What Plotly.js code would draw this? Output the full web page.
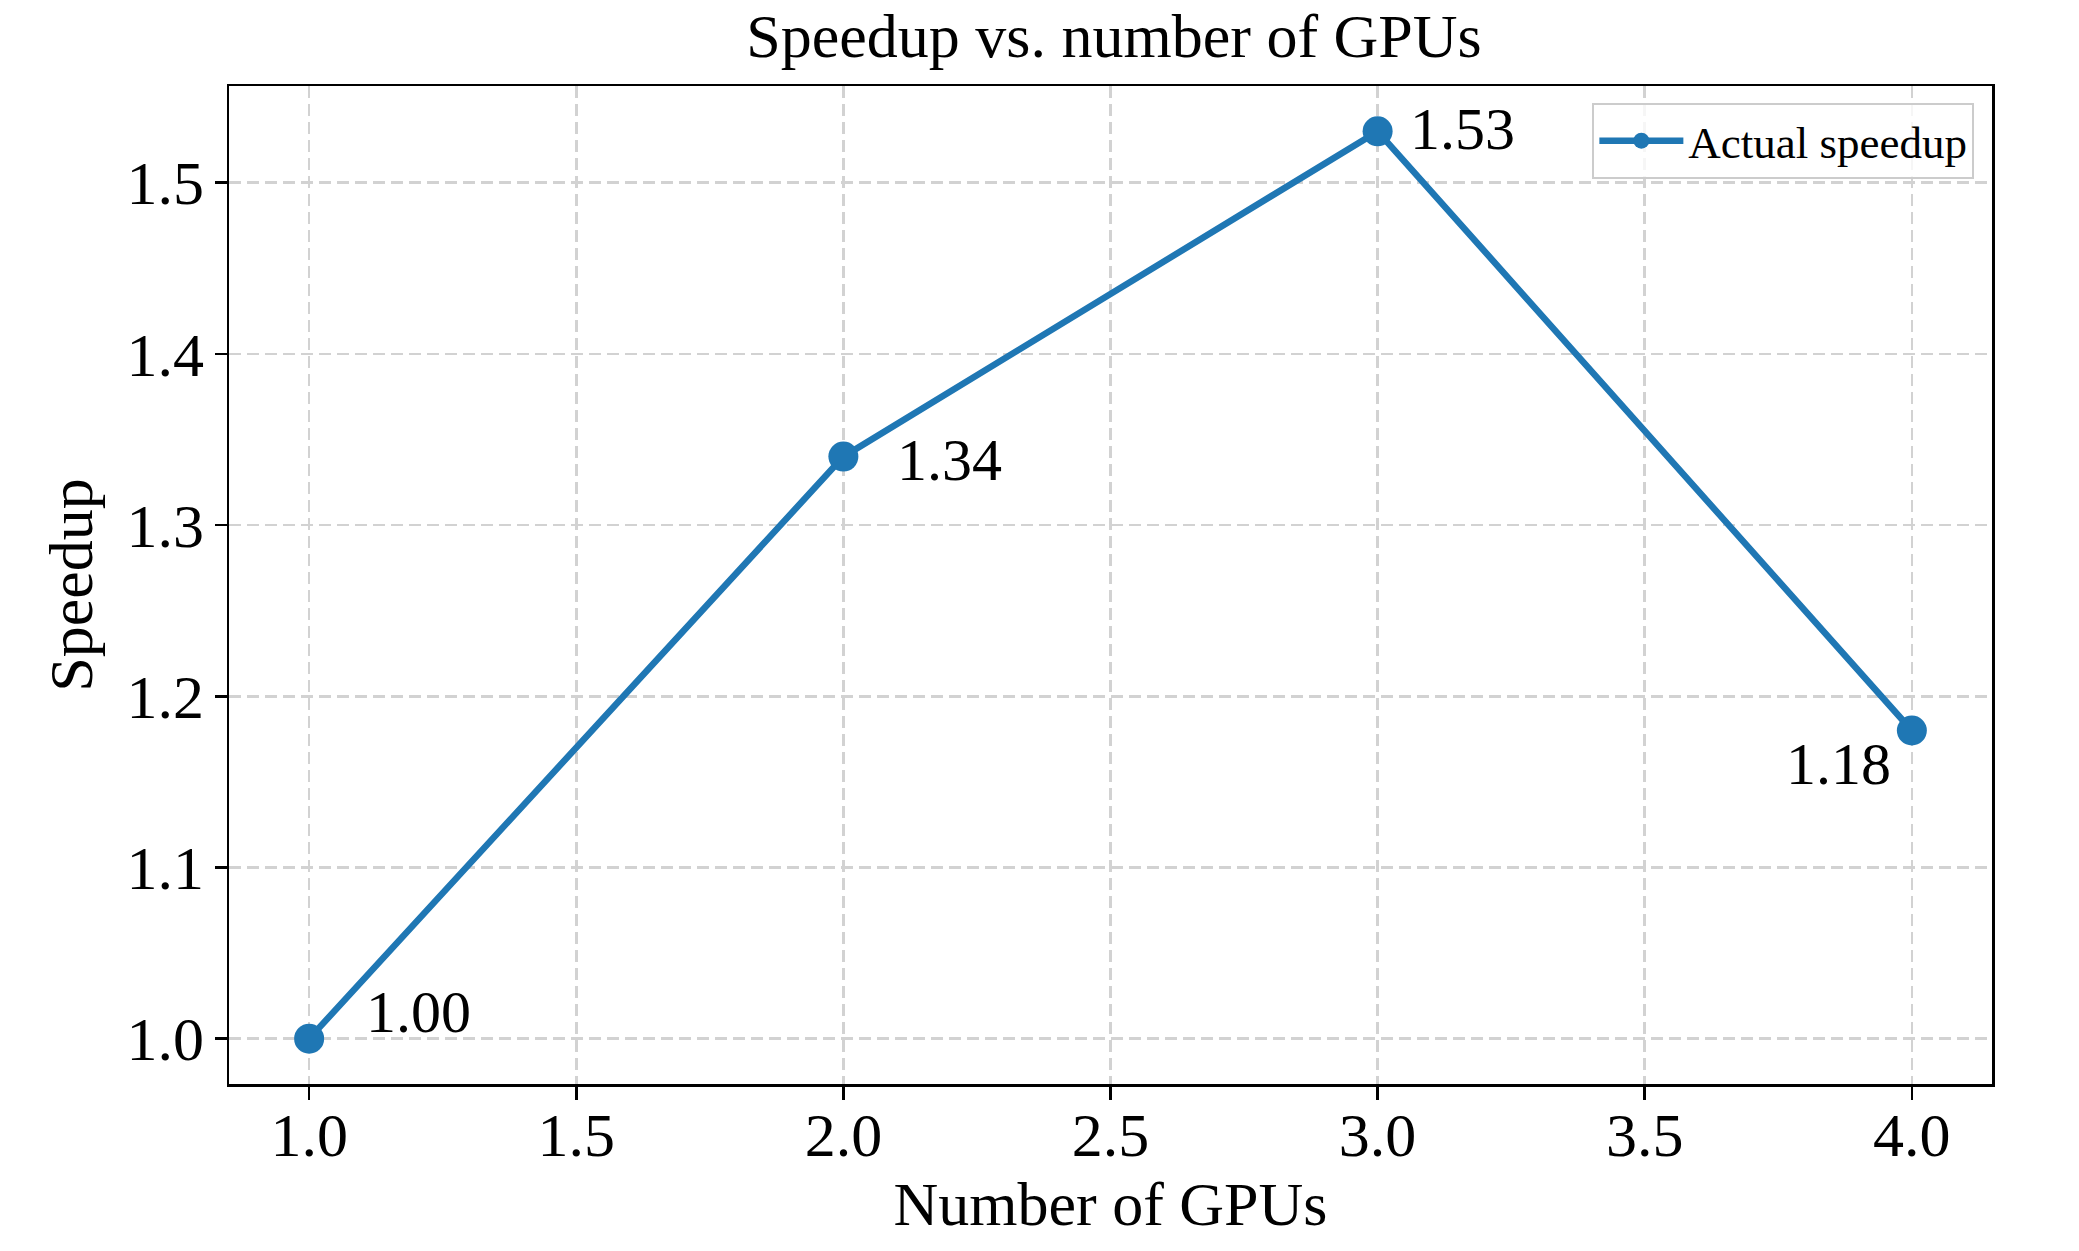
<!DOCTYPE html>
<html>
<head>
<meta charset="utf-8">
<script src="https://cdn.plot.ly/plotly-3.0.1.min.js"></script>
<style>
  html, body { margin: 0; padding: 0; background: #ffffff; }
  #chart { width: 2079px; height: 1251px; }
</style>
</head>
<body>
<div id="chart"></div>
<script>
const gpus = [1, 2, 3, 4];
const speedup = [1.00, 1.34, 1.53, 1.18];
const pointLabels = ["1.00", "1.34", "1.53", "1.18"];
const seriesName = "Actual speedup";
const chartTitle = "Speedup vs. number of GPUs";
const xTitle = "Number of GPUs";
const yTitle = "Speedup";

const FONT = "'Liberation Serif', 'Times New Roman', Times, serif";
const BLUE = "#1f77b4";

// label offsets (pixels) relative to each point
const labelShift = [
  {dx: 109, dy: 27},
  {dx: 106, dy: -3},
  {dx: 85, dy: 2},
  {dx: -73, dy: -33}
];

const trace = {
  x: gpus,
  y: speedup,
  type: "scatter",
  mode: "lines+markers",
  name: seriesName,
  line: {color: BLUE, width: 6.5},
  marker: {color: BLUE, size: 30}
};

const annotations = gpus.map((g, i) => ({
  x: g, y: speedup[i], xref: "x", yref: "y",
  text: pointLabels[i], showarrow: false,
  xanchor: "center", yanchor: "middle",
  xshift: labelShift[i].dx, yshift: labelShift[i].dy,
  font: {family: FONT, size: 60, color: "#000000"}
}));

const layout = {
  width: 2079, height: 1251,
  paper_bgcolor: "#ffffff", plot_bgcolor: "#ffffff",
  margin: {l: 229, r: 87, t: 86, b: 167},
  font: {family: FONT, size: 62, color: "#000000"},
  title: {
    text: chartTitle,
    font: {family: FONT, size: 62, color: "#000000"},
    x: 0.502, xanchor: "center", xref: "paper",
    y: 1 - 57 / 1251, yanchor: "bottom", yref: "container"
  },
  xaxis: {
    range: [0.85, 4.15],
    dtick: 0.5, tick0: 1, tickformat: ".1f",
    showgrid: true, gridcolor: "#d2d2d2", gridwidth: 2.5, griddash: "12px,6px",
    zeroline: false,
    showline: true, linecolor: "#000000", linewidth: 2.5, mirror: true,
    ticks: "outside", ticklen: 13, tickwidth: 2.5, tickcolor: "#000000",
    ticklabelstandoff: -18,
    tickfont: {family: FONT, size: 62, color: "#000000"},
    title: {text: xTitle, font: {family: FONT, size: 62, color: "#000000"}, standoff: 14}
  },
  yaxis: {
    range: [0.9735, 1.5565],
    dtick: 0.1, tick0: 1, tickformat: ".1f",
    showgrid: true, gridcolor: "#d2d2d2", gridwidth: 2.5, griddash: "12px,6px",
    zeroline: false,
    showline: true, linecolor: "#000000", linewidth: 2.5, mirror: true,
    ticks: "outside", ticklen: 12, tickwidth: 2.5, tickcolor: "#000000",
    ticklabelstandoff: -2,
    tickfont: {family: FONT, size: 62, color: "#000000"},
    title: {text: yTitle, font: {family: FONT, size: 62, color: "#000000"}, standoff: 14}
  },
  showlegend: true,
  legend: {
    x: 0.99, y: 0.983, xanchor: "right", yanchor: "top",
    bgcolor: "rgba(255,255,255,0.8)", bordercolor: "#cccccc", borderwidth: 2,
    itemwidth: 84,
    font: {family: FONT, size: 45, color: "#000000"}
  },
  annotations: annotations
};

Plotly.newPlot("chart", [trace], layout, {displayModeBar: false, staticPlot: true});
</script>
</body>
</html>
